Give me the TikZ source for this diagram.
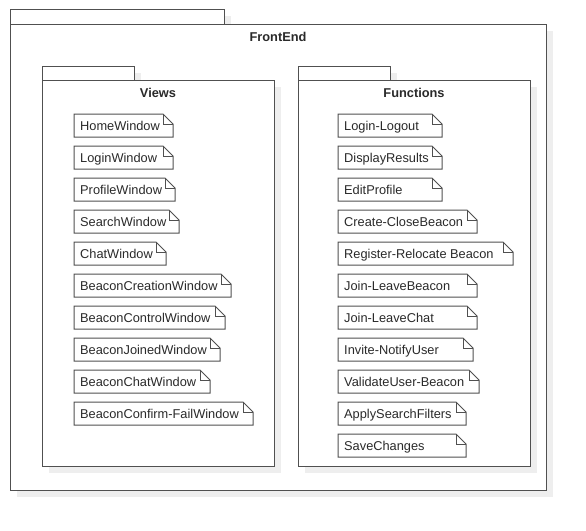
\documentclass[tikz,border=0pt]{standalone}
\usepackage{fontspec}
\setmainfont{Liberation Sans}
\definecolor{ln}{HTML}{505050}
\definecolor{tx}{HTML}{2A2A2A}
\definecolor{shd}{HTML}{EEEEEE}
\tikzset{
  ln/.style={draw=ln, line width=1pt, line join=miter},
  notebox/.style={draw=none, minimum height=23pt, inner sep=0pt, outer sep=0pt},
  notelabel/.style={text=tx, inner sep=0pt, font=\fontsize{12.8}{15}\selectfont},
  title/.style={text=tx, inner sep=0pt, font=\fontsize{12.8}{15}\selectfont\bfseries},
  shadowfill/.style={fill=shd, draw=none},
}
\newcommand\umlnote[5]{%
  \node[notebox, minimum width={#4-#2}, anchor=north west] (#1) at (#2,#3) {};
  \draw[ln] (#1.north west) -- ([xshift=-10pt]#1.north east) -- ([yshift=-10pt]#1.north east) -- (#1.south east) -- (#1.south west) -- cycle;
  \draw[ln] ([xshift=-10pt]#1.north east) |- ([yshift=-10pt]#1.north east);
  \node[notelabel, anchor=base west] (#1-t) at ([xshift=6pt,yshift=-16.5pt]#1.north west) {#5};
}
\newcommand\umlpkg[6]{% x1, tabtop, tabright, bodytop, x2, y2
  \fill[shadowfill] (#1+7,#2+7) rectangle (#3+7,#4+7);
  \fill[shadowfill] (#1+7,#4+7) rectangle (#5+7,#6+7);
  \draw[ln, fill=white] (#1,#2) rectangle (#3,#4);
  \draw[ln, fill=white] (#1,#4) rectangle (#5,#6);
}
\begin{document}
\begin{tikzpicture}[x=1pt, y=-1pt]
\useasboundingbox[fill=white] (0,0) rectangle (586,530);
% outer package
\umlpkg{10}{9}{224}{24}{546}{490}
\node[title] (frontend) at (278,37) {FrontEnd};
% Views package
\umlpkg{42}{66}{134}{80}{274}{466}
\node[title] (views) at (158,93) {Views};
% Functions package
\umlpkg{298}{66}{390}{80}{530}{466}
\node[title] (functions) at (414,93) {Functions};
% Views notes
\umlnote{v1}{74}{114}{173}{HomeWindow}
\umlnote{v2}{74}{146}{173}{LoginWindow}
\umlnote{v3}{74}{178}{175}{ProfileWindow}
\umlnote{v4}{74}{210}{179}{SearchWindow}
\umlnote{v5}{74}{242}{166}{ChatWindow}
\umlnote{v6}{74}{274}{231}{BeaconCreationWindow}
\umlnote{v7}{74}{306}{225}{BeaconControlWindow}
\umlnote{v8}{74}{338}{220}{BeaconJoinedWindow}
\umlnote{v9}{74}{370}{210}{BeaconChatWindow}
\umlnote{v10}{74}{402}{253}{BeaconConfirm-FailWindow}
% Functions notes
\umlnote{f1}{338}{114}{442}{Login-Logout}
\umlnote{f2}{338}{146}{442}{DisplayResults}
\umlnote{f3}{338}{178}{442}{EditProfile}
\umlnote{f4}{338}{210}{477}{Create-CloseBeacon}
\umlnote{f5}{338}{242}{513}{Register-Relocate Beacon}
\umlnote{f6}{338}{274}{477}{Join-LeaveBeacon}
\umlnote{f7}{338}{306}{477}{Join-LeaveChat}
\umlnote{f8}{338}{338}{473}{Invite-NotifyUser}
\umlnote{f9}{338}{370}{479}{ValidateUser-Beacon}
\umlnote{f10}{338}{402}{466}{ApplySearchFilters}
\umlnote{f11}{338}{434}{466}{SaveChanges}
\end{tikzpicture}
\end{document}
